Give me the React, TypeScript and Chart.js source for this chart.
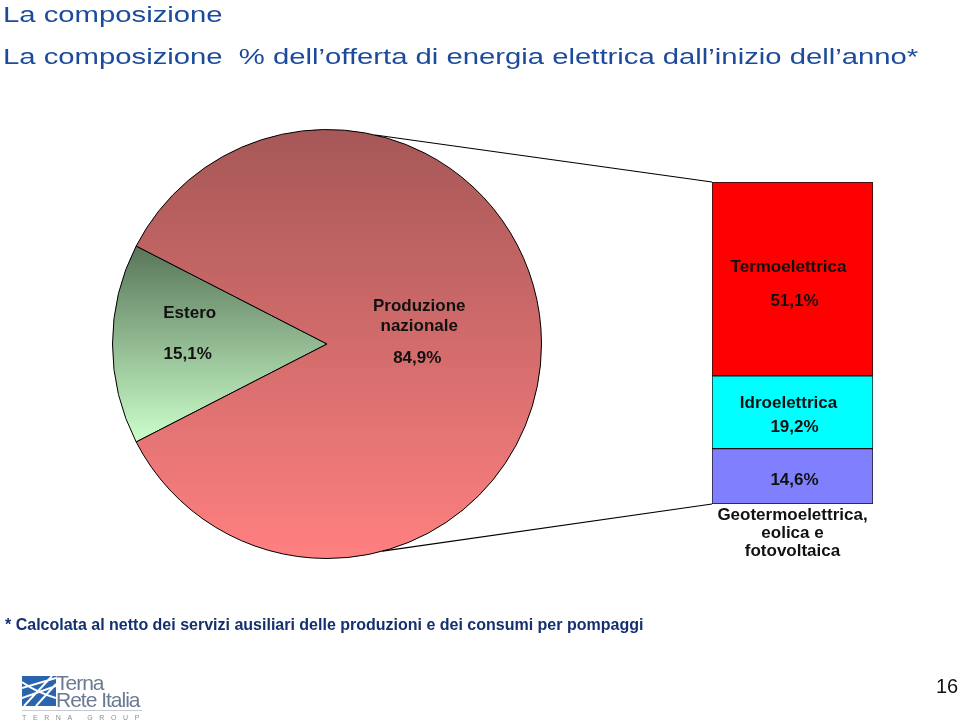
import React, { useEffect, useRef } from "react";
import { Chart, registerables } from "chart.js";

Chart.register(...registerables);

// ---- data ----
const pieLabels = ["Estero", "Produzione nazionale"];
const pieLabelLines = [["Estero"], ["Produzione", "nazionale"]];
const pieValues = [15.1, 84.9];
const pieValueText = ["15,1%", "84,9%"];

const barCategory = ["Produzione nazionale"];
const barSeries = ["Geotermoelettrica, eolica e fotovoltaica", "Idroelettrica", "Termoelettrica"];
const barLabelLines = [["Geotermoelettrica,", "eolica e", "fotovoltaica"], ["Idroelettrica"], ["Termoelettrica"]];
const barValues = [14.6, 19.2, 51.1];
const barValueText = ["14,6%", "19,2%", "51,1%"];

// ---- styles ----
const pieTop = ["#587558", "#a65757"];
const pieBottom = ["#ccffcc", "#ff8080"];
const barColors = ["#8080ff", "#00ffff", "#ff0000"];
const FONT = '"Liberation Sans", Arial, Helvetica, sans-serif';
const LABEL_FONT = `bold 17px ${FONT}`;
const TEXT_COLOR = "#111111";

export default function App() {
  const pieRef = useRef<HTMLCanvasElement>(null);
  const barRef = useRef<HTMLCanvasElement>(null);

  useEffect(() => {
    if (!pieRef.current || !barRef.current) return;
    const pieTotal = pieValues.reduce((a, b) => a + b, 0);
    const barTotal = barValues.reduce((a, b) => a + b, 0);

    const pieLabelPlugin = {
      id: "pieLabels",
      afterDatasetsDraw(chart: any) {
        const ctx = chart.ctx;
        const meta = chart.getDatasetMeta(0);
        const factors = [0.64, 0.43];
        const offsets = [[-31], [-38, -18]];
        const valueOff = [10, 14];
        ctx.save();
        ctx.font = LABEL_FONT;
        ctx.fillStyle = TEXT_COLOR;
        ctx.textAlign = "center";
        ctx.textBaseline = "middle";
        meta.data.forEach((arc: any, i: number) => {
          const p = arc.getProps(["x", "y", "startAngle", "endAngle", "outerRadius"], true);
          const mid = (p.startAngle + p.endAngle) / 2;
          const x = p.x + Math.cos(mid) * p.outerRadius * factors[i];
          const y = p.y + Math.sin(mid) * p.outerRadius * factors[i];
          pieLabelLines[i].forEach((t, k) => ctx.fillText(t, x, y + offsets[i][k]));
          ctx.fillText(pieValueText[i], x - 2, y + valueOff[i]);
        });
        ctx.restore();
      },
    };

    const pie = new Chart(pieRef.current, {
      type: "pie",
      data: {
        labels: pieLabels,
        datasets: [
          {
            data: pieValues,
            borderColor: "#000000",
            borderWidth: 1,
            backgroundColor: (c: any) => {
              const i = c.dataIndex ?? 0;
              const { ctx, chartArea } = c.chart;
              if (!chartArea) return pieBottom[i];
              const cy = (chartArea.top + chartArea.bottom) / 2;
              const r = Math.min(chartArea.width, chartArea.height) / 2;
              let y0 = cy - r;
              let y1 = cy + r;
              if (i === 0) {
                const half = (Math.PI * pieValues[0]) / pieTotal;
                y0 = cy - r * Math.sin(half);
                y1 = cy + r * Math.sin(half);
              }
              const g = ctx.createLinearGradient(0, y0, 0, y1);
              g.addColorStop(0, pieTop[i]);
              g.addColorStop(1, pieBottom[i]);
              return g;
            },
          } as any,
        ],
      },
      options: {
        responsive: false,
        animation: false,
        events: [],
        rotation: 270 - (pieValues[0] / pieTotal) * 180,
        layout: { padding: { left: 112, top: 129, right: 418, bottom: 167 } },
        plugins: { legend: { display: false }, tooltip: { enabled: false } },
      } as any,
      plugins: [pieLabelPlugin],
    });

    const barLabelPlugin = {
      id: "barLabels",
      afterDatasetsDraw(chart: any) {
        const ctx = chart.ctx;
        ctx.save();
        // connector lines from pie to bar
        const arc: any = pie.getDatasetMeta(0).data[0];
        const ap = arc.getProps(["x", "y", "outerRadius"], true);
        const topBar: any = chart.getDatasetMeta(barValues.length - 1).data[0];
        const botBar: any = chart.getDatasetMeta(0).data[0];
        const left = topBar.x - topBar.width / 2;
        const aTop = (-77 * Math.PI) / 180;
        const aBot = (75 * Math.PI) / 180;
        ctx.strokeStyle = "#000000";
        ctx.lineWidth = 1.2;
        ctx.beginPath();
        ctx.moveTo(ap.x + Math.cos(aTop) * ap.outerRadius, ap.y + Math.sin(aTop) * ap.outerRadius);
        ctx.lineTo(left, topBar.y);
        ctx.moveTo(ap.x + Math.cos(aBot) * ap.outerRadius, ap.y + Math.sin(aBot) * ap.outerRadius);
        ctx.lineTo(left, botBar.base);
        ctx.stroke();

        ctx.font = LABEL_FONT;
        ctx.fillStyle = TEXT_COLOR;
        ctx.textAlign = "center";
        ctx.textBaseline = "middle";
        // Termoelettrica
        const t: any = chart.getDatasetMeta(2).data[0];
        const tc = (t.y + t.base) / 2;
        ctx.fillText(barLabelLines[2][0], t.x - 4, tc - 12);
        ctx.fillText(barValueText[2], t.x + 2, tc + 22);
        // Idroelettrica
        const d: any = chart.getDatasetMeta(1).data[0];
        const dc = (d.y + d.base) / 2;
        ctx.fillText(barLabelLines[1][0], d.x - 4, dc - 9);
        ctx.fillText(barValueText[1], d.x + 2, dc + 15);
        // Geotermoelettrica
        const g: any = chart.getDatasetMeta(0).data[0];
        const gc = (g.y + g.base) / 2;
        ctx.fillText(barValueText[0], g.x + 2, gc + 4);
        barLabelLines[0].forEach((s, k) => ctx.fillText(s, g.x, g.base + 11 + k * 18));
        ctx.restore();
      },
    };

    const bar = new Chart(barRef.current, {
      type: "bar",
      data: {
        labels: barCategory,
        datasets: barSeries.map((s, i) => ({
          label: s,
          data: [barValues[i]],
          backgroundColor: barColors[i],
          borderColor: "#111111",
          borderWidth: 1,
          borderSkipped: false,
          barPercentage: 1,
          categoryPercentage: 1,
        })),
      },
      options: {
        responsive: false,
        animation: false,
        events: [],
        layout: { padding: { left: 712, top: 182, right: 87, bottom: 222 } },
        scales: {
          x: { stacked: true, display: false },
          y: { stacked: true, display: false, min: 0, max: barTotal },
        },
        plugins: { legend: { display: false }, tooltip: { enabled: false } },
      } as any,
      plugins: [barLabelPlugin],
    });

    return () => {
      bar.destroy();
      pie.destroy();
    };
  }, []);

  const titleStyle: React.CSSProperties = {
    position: "absolute",
    left: 3,
    fontSize: 22,
    lineHeight: "22px",
    color: "#1c4b9b",
    whiteSpace: "nowrap",
    transform: "scaleX(1.33)",
    transformOrigin: "left top",
  };

  return (
    <div
      style={{
        position: "absolute",
        left: 0,
        top: 0,
        width: 960,
        height: 726,
        background: "#ffffff",
        overflow: "hidden",
        fontFamily: FONT,
      }}
    >
      <canvas ref={pieRef} width={960} height={726} style={{ position: "absolute", left: 0, top: 0 }} />
      <canvas ref={barRef} width={960} height={726} style={{ position: "absolute", left: 0, top: 0 }} />
      <div style={{ ...titleStyle, top: 4 }}>La composizione</div>
      <div style={{ ...titleStyle, top: 46 }}>La composizione&nbsp; % dell’offerta di energia elettrica dall’inizio dell’anno*</div>
      <div
        style={{
          position: "absolute",
          left: 5,
          top: 615,
          fontSize: 16,
          lineHeight: "19px",
          fontWeight: "bold",
          color: "#14306e",
          whiteSpace: "nowrap",
        }}
      >
        * Calcolata al netto dei servizi ausiliari delle produzioni e dei consumi per pompaggi
      </div>
      {/* logo */}
      <svg style={{ position: "absolute", left: 22, top: 676 }} width={34} height={30} viewBox="0 0 34 30">
        <rect x={0} y={0} width={34} height={30} fill="#2a64ad" />
        <path d="M0 12 L34 2 M0 22 L34 10 M2 30 L30 0 M14 30 L34 8 M0 6 Q14 16 34 22" stroke="#ffffff" strokeWidth={2} fill="none" />
      </svg>
      <div style={{ position: "absolute", left: 56, top: 674, fontSize: 21, lineHeight: "17px", color: "#6a7a92", letterSpacing: -1, whiteSpace: "nowrap" }}>
        Terna
        <br />
        Rete Italia
      </div>
      <div style={{ position: "absolute", left: 22, top: 710, width: 120, height: 1, background: "#c8ccd2" }} />
      <div style={{ position: "absolute", left: 22, top: 714, fontSize: 7, lineHeight: "8px", color: "#8a8f96", letterSpacing: 6.6, whiteSpace: "nowrap" }}>
        TERNA&nbsp;GROUP
      </div>
      <div style={{ position: "absolute", left: 936, top: 676, fontSize: 20, lineHeight: "20px", color: "#111111" }}>16</div>
    </div>
  );
}
